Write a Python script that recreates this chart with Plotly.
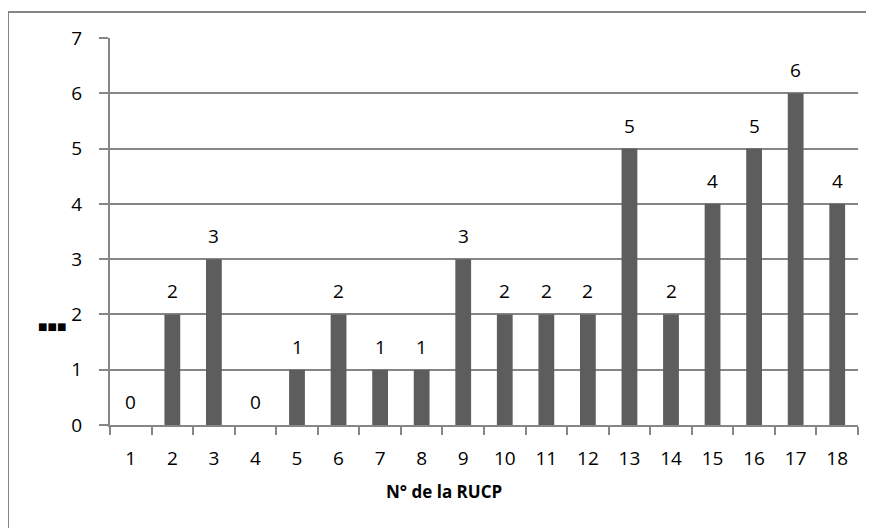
import plotly.graph_objects as go

categories = [str(i) for i in range(1, 19)]
values = [0, 2, 3, 0, 1, 2, 1, 1, 3, 2, 2, 2, 5, 2, 4, 5, 6, 4]
y_ticks = [0, 1, 2, 3, 4, 5, 6, 7]
x_title = "N° de la RUCP"
y_title = "■■■"

W, H = 874, 528
L, R, T, B = 102, 24, 30, 111
FONT = "Open Sans, Liberation Sans, sans-serif"
GRID = "#868686"
PW, PH = W - L - R, H - T - B

fig = go.Figure(go.Bar(
    x=categories, y=values,
    marker=dict(color="#5d5d5d", line=dict(width=0)),
    cliponaxis=False, width=0.38,
))

ann = [dict(x=i, y=v, xref="x", yref="y", text=str(v), showarrow=False,
            yanchor="bottom", yshift=8, font=dict(family=FONT, size=19, color="black"))
       for i, v in enumerate(values)]
ann.append(dict(text=y_title, xref="paper", yref="paper", xanchor="center", yanchor="middle",
                x=(44 - L) / PW, y=(H - B - 318) / PH,
                showarrow=False, font=dict(family="DejaVu Sans", size=10, color="black")))
ann.append(dict(text="<b>" + x_title + "</b>", xref="paper", yref="paper",
                xanchor="center", yanchor="middle",
                x=(436 - L) / PW, y=(H - B - 483) / PH,
                showarrow=False, font=dict(family=FONT, size=17, color="black")))

fig.update_layout(
    width=W, height=H,
    margin=dict(l=L, r=R, t=T, b=B, pad=0, autoexpand=False),
    paper_bgcolor="white", plot_bgcolor="white",
    showlegend=False,
    font=dict(family=FONT, size=19, color="black"),
    xaxis=dict(
        type="category", tickson="boundaries", ticks="outside", ticklen=8,
        tickwidth=2, tickcolor=GRID, showline=True, linecolor=GRID, linewidth=2,
        showgrid=False, tickfont=dict(size=19), automargin=False,
        ticklabelstandoff=15,
    ),
    yaxis=dict(
        range=[0, 7], tickvals=y_ticks, ticks="outside", ticklen=9, tickwidth=2,
        tickcolor=GRID, showline=True, linecolor=GRID, linewidth=2,
        showgrid=True, gridcolor=GRID, gridwidth=2, zeroline=False,
        tickfont=dict(size=19), ticklabelstandoff=13, automargin=False,
    ),
    shapes=[dict(type="rect", xref="paper", yref="paper",
                 x0=(0 - L) / PW, x1=1.2,
                 y0=-0.5, y1=1 + (T - 4) / PH,
                 line=dict(color=GRID, width=2), layer="below")],
    annotations=ann,
)

fig.write_html("out.html")
